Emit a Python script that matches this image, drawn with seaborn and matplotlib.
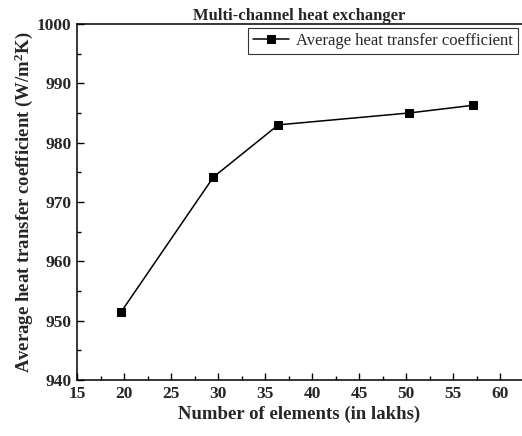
import matplotlib
matplotlib.use("Agg")
import matplotlib.pyplot as plt
from matplotlib.ticker import MultipleLocator
import seaborn as sns
import pandas as pd

# Mesh independence study: element count vs. average heat transfer coefficient
elements_lakhs = [19.7, 29.5, 36.4, 50.3, 57.1]
htc_values = [951.5, 974.2, 983.0, 985.0, 986.3]
series_label = "Average heat transfer coefficient"

df = pd.DataFrame({"elements": elements_lakhs, "htc": htc_values})

sns.set_theme(style="white")
plt.rcParams["font.family"] = ["Liberation Serif", "DejaVu Serif"]
plt.rcParams["mathtext.fontset"] = "custom"
plt.rcParams["mathtext.rm"] = "Liberation Serif"
plt.rcParams["mathtext.bf"] = "Liberation Serif:bold"

fig = plt.figure(figsize=(5.22, 4.36), dpi=100)
ax = fig.add_axes([0.1475, 0.1284, 0.8525, 0.8166])

sns.lineplot(data=df, x="elements", y="htc", ax=ax, color="black",
             linewidth=1.1, marker="s", markersize=5.8,
             markerfacecolor="black", markeredgecolor="black",
             label=series_label)

ax.set_xlim(15, 62.3)
ax.set_ylim(940, 1000)
ax.xaxis.set_major_locator(MultipleLocator(5))
ax.xaxis.set_minor_locator(MultipleLocator(2.5))
ax.yaxis.set_major_locator(MultipleLocator(10))
ax.yaxis.set_minor_locator(MultipleLocator(5))

ax.tick_params(axis="both", which="major", direction="in", length=5,
               width=1, color="black", labelsize=12.5, pad=4,
               top=False, right=False, bottom=True, left=True)
ax.tick_params(axis="both", which="minor", direction="in", length=3,
               width=1, color="black", top=False, right=False,
               bottom=True, left=True)
for lab in ax.get_xticklabels() + ax.get_yticklabels():
    lab.set_fontweight("bold")

for side in ["left", "bottom", "top"]:
    ax.spines[side].set_visible(True)
    ax.spines[side].set_color("black")
    ax.spines[side].set_linewidth(1.1)
ax.spines["right"].set_visible(False)

ax.set_xlabel("Number of elements (in lakhs)", fontsize=13.5,
              fontweight="bold", labelpad=3)
ax.set_ylabel(r"Average heat transfer coefficient (W/m$\mathbf{^2}$K)",
              fontsize=13.5, fontweight="bold", labelpad=1)
ax.set_title("Multi-channel heat exchanger", fontsize=12,
             fontweight="bold", pad=3)

leg = ax.legend(loc="upper right", fontsize=12, frameon=True,
                fancybox=False, borderaxespad=0.25, handlelength=2.2,
                borderpad=0.3, handletextpad=0.4)
leg.get_frame().set_edgecolor("black")
leg.get_frame().set_linewidth(0.8)

fig.savefig("out.png", dpi=100)
